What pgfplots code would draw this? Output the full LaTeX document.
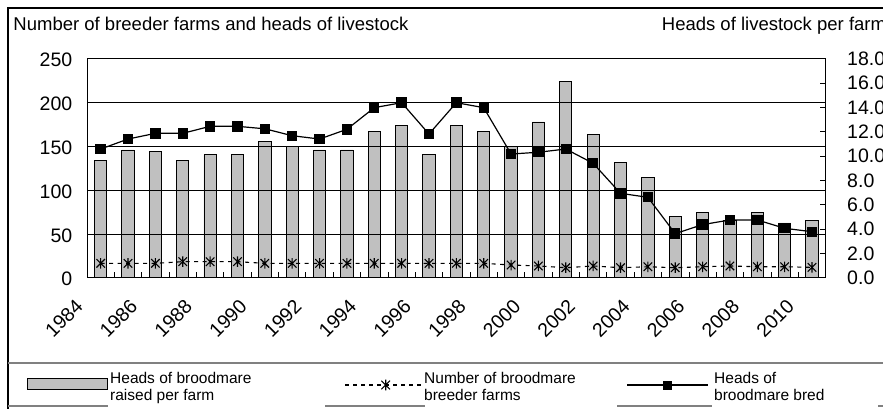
\documentclass[border=0pt]{standalone}
\usepackage{fontspec}
\setmainfont{Liberation Sans}
\usepackage{pgfplots}
\usepackage{pgfplotstable}
\pgfplotsset{compat=1.18}
\definecolor{barg}{RGB}{192,192,192}
\definecolor{lgray}{RGB}{128,128,128}

\pgfdeclareplotmark{xstar}{%
  \pgfpathmoveto{\pgfqpoint{0pt}{1.05\pgfplotmarksize}}%
  \pgfpathlineto{\pgfqpoint{0pt}{-1.05\pgfplotmarksize}}%
  \pgfpathmoveto{\pgfqpoint{-0.85\pgfplotmarksize}{-0.85\pgfplotmarksize}}%
  \pgfpathlineto{\pgfqpoint{0.85\pgfplotmarksize}{0.85\pgfplotmarksize}}%
  \pgfpathmoveto{\pgfqpoint{-0.85\pgfplotmarksize}{0.85\pgfplotmarksize}}%
  \pgfpathlineto{\pgfqpoint{0.85\pgfplotmarksize}{-0.85\pgfplotmarksize}}%
  \pgfusepathqstroke}

\pgfplotstableread{
i bar farms bred
0 9.6 16.4 146.9
1 10.5 16.4 158.3
2 10.35 16.4 164.8
3 9.6 18.3 164.8
4 10.1 18.3 172.8
5 10.1 18.3 172.8
6 11.2 16.4 170.0
7 10.8 16.4 162.1
8 10.5 16.4 158.3
9 10.5 16.4 169.4
10 12.05 16.4 194.1
11 12.5 16.4 199.8
12 10.1 16.4 164.0
13 12.5 16.4 199.8
14 12.05 16.4 194.1
15 10.8 14.5 141.2
16 12.8 13.4 143.2
17 16.15 11.4 146.9
18 11.8 13.4 130.6
19 9.5 11.4 96.3
20 8.25 12.5 91.8
21 5.0 11.4 50.3
22 5.4 12.5 60.6
23 4.7 13.4 65.9
24 5.4 12.5 65.9
25 4.5 12.5 56.4
26 4.7 11.8 52.5
}\data

\begin{document}
\begin{tikzpicture}
\useasboundingbox (-87pt,-130.3pt) rectangle (796pt,277.7pt);

% right axis with bars
\begin{axis}[
  at={(0pt,0pt)}, anchor=south west,
  scale only axis, width=738.7pt, height=219pt,
  xmin=-0.5, xmax=26.5, ymin=0, ymax=18,
  axis x line=none, axis y line*=right,
  axis line style={-, line width=1pt, black},
  ytick={0,2,...,18},
  tick align=inside, major tick length=6pt,
  every tick/.style={black, line width=0.8pt},
  /pgf/number format/assume math mode=true,
  yticklabel style={font=\fontsize{19.5}{22}\selectfont, xshift=18pt,
    /pgf/number format/fixed, /pgf/number format/fixed zerofill,
    /pgf/number format/precision=1},
  ybar, bar width=12.3pt,
]
\addplot[fill=barg, draw=black, line width=0.9pt] table[x=i,y=bar]{\data};
\end{axis}

% left axis with lines
\begin{axis}[
  at={(0pt,0pt)}, anchor=south west,
  scale only axis, width=738.7pt, height=219pt,
  xmin=-0.5, xmax=26.5, ymin=0, ymax=250,
  ytick={0,50,...,250}, ytick pos=left,
  xtick={0,2,...,26},
  xticklabels={1984,1986,1988,1990,1992,1994,1996,1998,2000,2002,2004,2006,2008,2010},
  minor xtick={0.5,1.5,...,25.5}, xtick pos=bottom,
  tick align=inside, major tick length=0pt, minor tick length=6pt,
  every tick/.style={black, line width=0.8pt},
  ymajorgrids, major grid style={black, line width=0.8pt},
  axis line style={line width=1pt},
  /pgf/number format/assume math mode=true,
  yticklabel style={font=\fontsize{19.5}{22}\selectfont, xshift=-11.2pt, yshift=-1.5pt},
  xticklabel style={font=\fontsize{19.5}{22}\selectfont, xshift=-19pt, yshift=-23pt, rotate=45, anchor=east},
]
\addplot[black, line width=1.1pt, dash pattern=on 4pt off 4.5pt, mark=xstar, mark size=5pt,
  mark options={solid, line width=1.1pt}] table[x=i,y=farms]{\data};
\addplot[black, line width=1.2pt, mark=square*, mark size=4.6pt, mark options={solid}] table[x=i,y=bred]{\data};
\end{axis}

% frame and legend table lines
\draw[line width=1.7pt] (-79pt,-131pt) -- (-79pt,269.7pt) -- (797pt,269.7pt);
\draw[lgray, line width=1.6pt] (-79pt,-85pt) -- (797pt,-85pt);
\draw[lgray, line width=1.2pt] (-79pt,-128.3pt) -- (21pt,-128.3pt);
\draw[lgray, line width=1.2pt] (238pt,-128.3pt) -- (338pt,-128.3pt);
\draw[lgray, line width=1.2pt] (530pt,-128.3pt) -- (625pt,-128.3pt);
\draw[lgray, line width=1.2pt] (791pt,-128.3pt) -- (797pt,-128.3pt);

% titles
\node[anchor=base west, inner sep=0pt, font=\fontsize{18.5}{21}\selectfont] at (-73.7pt,247pt) {Number of breeder farms and heads of livestock};
\node[anchor=base west, inner sep=0pt, font=\fontsize{18.5}{21}\selectfont] at (574.7pt,247pt) {Heads of livestock per farm};

% legend symbols
\filldraw[fill=barg, draw=black, line width=0.9pt] (-59.7pt,-111.6pt) rectangle (20.3pt,-100.6pt);
\draw[black, line width=1.1pt, dash pattern=on 4pt off 4pt] (258pt,-107.3pt) -- (334.7pt,-107.3pt);
\draw[black, line width=1.1pt] (298.7pt,-102pt) -- (298.7pt,-112.6pt)
  (294.4pt,-103pt) -- (303pt,-111.6pt) (294.4pt,-111.6pt) -- (303pt,-103pt);
\draw[black, line width=1.2pt] (540.3pt,-107.3pt) -- (621.3pt,-107.3pt);
\fill[black] (576.2pt,-111.8pt) rectangle (585.2pt,-102.8pt);

% legend texts
\begin{scope}[every node/.style={anchor=base west, inner sep=0pt, font=\fontsize{15.5}{18}\selectfont}]
\node at (23pt,-105.6pt) {Heads of broodmare};
\node at (23pt,-122.3pt) {raised per farm};
\node at (337pt,-105.6pt) {Number of broodmare};
\node at (337pt,-122.3pt) {breeder farms};
\node at (627pt,-105.6pt) {Heads of};
\node at (627pt,-122.3pt) {broodmare bred};
\end{scope}
\end{tikzpicture}
\end{document}
